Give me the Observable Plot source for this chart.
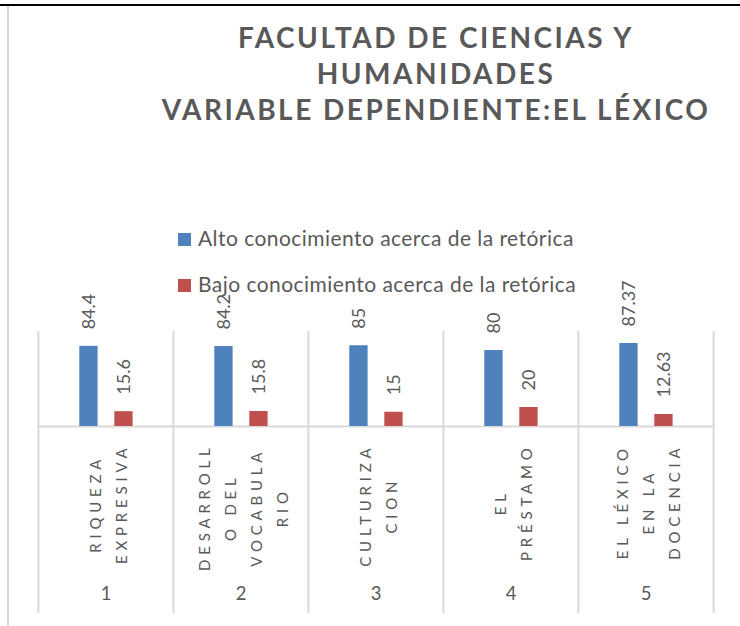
<!DOCTYPE html>
<html>
<head>
<meta charset="utf-8">
<script src="https://cdn.jsdelivr.net/npm/d3@7"></script>
<script src="https://cdn.jsdelivr.net/npm/@observablehq/plot@0.6"></script>
<style>
  html, body { margin: 0; padding: 0; background: #fff; }
  #wrap { position: relative; width: 740px; height: 626px; overflow: hidden; font-family: Lato, "Open Sans", sans-serif; }
  #topline { position: absolute; left: 0; top: 4px; width: 740px; height: 2px; background: #000; }
  #leftline { position: absolute; left: 7px; top: 6px; width: 2px; height: 620px; background: #d9d9d9; }
  #chart { position: absolute; left: 0; top: 0; }
  .tline { position: absolute; left: 136px; width: 600px; text-align: center; font-weight: 700; font-size: 28px; line-height: 36px; height: 36px; color: #595959; letter-spacing: 2.5px; white-space: nowrap; }
  .lrow { position: absolute; left: 198px; font-size: 21px; line-height: 21px; height: 21px; color: #595959; letter-spacing: 0.45px; white-space: nowrap; }
  .sw { position: absolute; left: 178px; width: 13px; height: 13px; }
  g[aria-description="category-labels"] text { letter-spacing: 4.8px; }
</style>
</head>
<body>
<div id="wrap">
  <div id="chart"></div>
  <div id="topline"></div>
  <div id="leftline"></div>
  <div id="titlebox"></div>
  <div id="legendbox"></div>
</div>
<script>
// ---- data ----
const categories = ["1", "2", "3", "4", "5"];
const categoryLabels = [
  "RIQUEZA\nEXPRESIVA",
  "DESARROLL\nO DEL\nVOCABULA\nRIO",
  "CULTURIZA\nCION",
  "EL\nPRÉSTAMO",
  "EL LÉXICO\nEN LA\nDOCENCIA"
];
const seriesNames = [
  "Alto conocimiento acerca de la retórica",
  "Bajo conocimiento acerca de la retórica"
];
const altoValues = [84.4, 84.2, 85, 80, 87.37];
const bajoValues = [15.6, 15.8, 15, 20, 12.63];
const titleLines = ["FACULTAD DE CIENCIAS Y", "HUMANIDADES", "VARIABLE DEPENDIENTE:EL LÉXICO"];
const seriesColors = ["#4f81bd", "#c0504d"];

// ---- layout ----
const W = 740, H = 626;
const mL = 37, mR = 27, mT = 331;
const axisY = 426, gridBottom = 613;
const pxPerUnit = (axisY - mT) / 100;
const yMin = -(gridBottom - axisY) / pxPerUnit;
const step = (W - mL - mR) / categories.length;
const barW = 18.5;
const blueLeft = 41.3, redLeft = 76.3;
const blueCenterOff = blueLeft + barW / 2 - step / 2;
const redCenterOff = redLeft + barW / 2 - step / 2;
const gray = "#595959";
const lineColor = "#d9d9d9";

const altoRows = categories.map((c, i) => ({cat: c, series: seriesNames[0], value: altoValues[i]}));
const bajoRows = categories.map((c, i) => ({cat: c, series: seriesNames[1], value: bajoValues[i]}));

// measure category label blocks to center wrapped lines like Excel
const catFont = 15, catSpacing = 4.8, catLineHeight = 26;
const ctx = document.createElement("canvas").getContext("2d");
ctx.font = `${catFont}px Lato`;
const hasLS = "letterSpacing" in ctx;
if (hasLS) ctx.letterSpacing = catSpacing + "px";
const lineWidth = s => ctx.measureText(s).width + (hasLS ? 0 : s.length * catSpacing);

const catMarks = categories.map((c, i) => {
  const lines = categoryLabels[i].split("\n");
  const maxW = Math.max(...lines.map(lineWidth));
  return Plot.text([{cat: c, label: categoryLabels[i]}], {
    x: "cat", y: () => 0, text: "label", rotate: -90,
    textAnchor: "middle", lineHeight: catLineHeight / catFont,
    dy: 17 + maxW / 2, fontSize: catFont, fill: gray,
    ariaDescription: "category-labels"
  });
});

const chart = Plot.plot({
  width: W, height: H,
  marginLeft: mL, marginRight: mR, marginTop: mT, marginBottom: H - gridBottom,
  style: {fontFamily: "Lato, sans-serif", background: "none"},
  x: {type: "band", domain: categories, padding: 0, axis: null},
  y: {domain: [yMin, 100], axis: null},
  marks: [
    Plot.ruleY([0], {stroke: lineColor, strokeWidth: 2}),
    Plot.ruleX(categories, {x: d => d, dx: -step / 2, stroke: lineColor, strokeWidth: 2}),
    Plot.ruleX([categories[categories.length - 1]], {x: d => d, dx: step / 2, stroke: lineColor, strokeWidth: 2}),
    Plot.barY(altoRows, {x: "cat", y: "value", fill: seriesColors[0], insetLeft: blueLeft, insetRight: step - blueLeft - barW}),
    Plot.barY(bajoRows, {x: "cat", y: "value", fill: seriesColors[1], insetLeft: redLeft, insetRight: step - redLeft - barW}),
    Plot.text(altoRows, {x: "cat", y: "value", text: d => String(d.value), rotate: -90, textAnchor: "start", dx: blueCenterOff, dy: -17, fontSize: 18, fill: gray}),
    Plot.text(bajoRows, {x: "cat", y: "value", text: d => String(d.value), rotate: -90, textAnchor: "start", dx: redCenterOff, dy: -17, fontSize: 18, fill: gray}),
    ...catMarks,
    Plot.text(categories, {x: d => d, frameAnchor: "bottom", dy: -14, fontSize: 18.5, fill: gray})
  ]
});
document.getElementById("chart").appendChild(chart);

// ---- title ----
const titleBox = document.getElementById("titlebox");
titleLines.forEach((t, i) => {
  const d = document.createElement("div");
  d.className = "tline";
  d.style.top = (19 + i * 36) + "px";
  d.textContent = t;
  titleBox.appendChild(d);
});

// ---- legend ----
const legendBox = document.getElementById("legendbox");
const legendBaselines = [246, 292];
seriesNames.forEach((name, i) => {
  const sw = document.createElement("div");
  sw.className = "sw";
  sw.style.top = (legendBaselines[i] - 13) + "px";
  sw.style.background = seriesColors[i];
  legendBox.appendChild(sw);
  const t = document.createElement("div");
  t.className = "lrow";
  t.style.top = (legendBaselines[i] - 19) + "px";
  t.textContent = name;
  legendBox.appendChild(t);
});
</script>
</body>
</html>
